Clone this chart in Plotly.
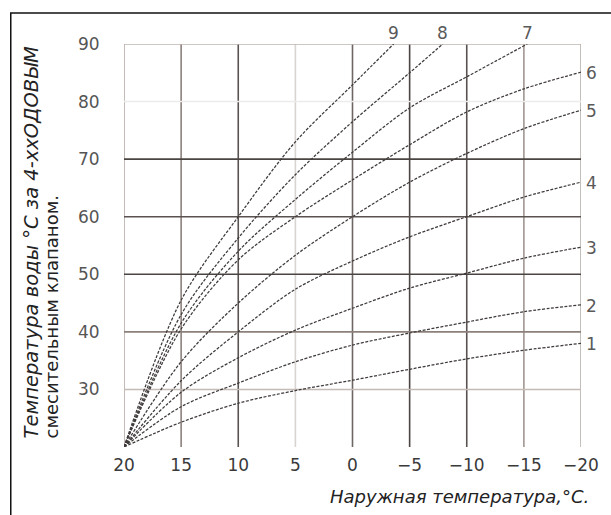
import plotly.graph_objects as go

# ---- data ----
outdoor = [20, 15, 10, 5, 0, -5, -10, -15, -20]
curve1 = [20, 24.3, 27.6, 29.8, 31.6, 33.5, 35.3, 36.8, 38.0]
curve2 = [20, 27.0, 31.1, 34.8, 37.7, 39.8, 41.7, 43.5, 44.7]
curve3 = [20, 29.5, 35.5, 40.3, 44.1, 47.6, 50.2, 52.8, 54.7]
curve4 = [20, 31.5, 40.0, 47.4, 52.3, 56.5, 60.0, 63.4, 66.0]
curve5 = [20, 34.8, 45.0, 53.3, 60.0, 66.0, 71.0, 75.3, 78.5]
curve6 = [20, 40.5, 52.5, 60.0, 66.4, 72.5, 78.2, 82.2, 85.1]
outdoor7 = [20, 15, 10, 5, 0, -5, -10, -15.3]
curve7 = [20, 41.5, 54.0, 63.0, 71.2, 78.9, 84.3, 90.0]
outdoor8 = [20, 15, 10, 5, 0, -5, -7.9]
curve8 = [20, 43.0, 56.3, 67.3, 76.5, 85.0, 90.0]
outdoor9 = [20, 15, 10, 5, 0, -3.6]
curve9 = [20, 45.5, 60.0, 73.0, 82.9, 90.0]
curve_names = ["1", "2", "3", "4", "5", "6", "7", "8", "9"]

x_ticks = [20, 15, 10, 5, 0, -5, -10, -15, -20]
x_tick_text = ["20", "15", "10", "5", "0", "−5", "−10", "−15", "−20"]
y_ticks = [30, 40, 50, 60, 70, 80, 90]

x_title = "Наружная температура,°С."
y_title_1 = "Температура воды °С за 4-ххОДОВЫМ"
y_title_2 = "смесительным клапаном."

# ---- styles ----
grid_x_colors = ['#b5aaa6', '#8c807b', '#5a5250', '#d8d4d2', '#6e6664',
                 '#4a4442', '#585250', '#a09692', '#b8aeaa']
grid_y_colors = ['#c4bab6', '#8c807b', '#4a4442', '#5a5250', '#4a4442',
                 '#ececec', '#bdb3af']

series = [
    (outdoor, curve1), (outdoor, curve2), (outdoor, curve3),
    (outdoor, curve4), (outdoor, curve5), (outdoor, curve6),
    (outdoor7, curve7), (outdoor8, curve8), (outdoor9, curve9),
]

fig = go.Figure()

for (xs, ys), name in zip(series, curve_names):
    fig.add_trace(go.Scatter(
        x=xs, y=ys, mode="lines", name=name,
        line=dict(color="#403b3b", width=1.25, dash="3px,1.5px",
                  shape="spline", smoothing=0.9),
        showlegend=False, hoverinfo="x+y",
    ))

shapes = []
for v, c in zip(x_ticks, grid_x_colors):
    shapes.append(dict(type="line", xref="x", yref="y domain", x0=v, x1=v,
                       y0=0, y1=1, line=dict(color=c, width=1.6), layer="below"))
for v, c in zip(y_ticks, grid_y_colors):
    shapes.append(dict(type="line", xref="x domain", yref="y", x0=0, x1=1,
                       y0=v, y1=v, line=dict(color=c, width=1.6), layer="below"))

# outer frame (top and left edges visible; right/bottom run off the canvas)
shapes.append(dict(type="rect", xref="paper", yref="paper",
                   x0=-0.2478, x1=1.12, y0=-0.25, y1=1.077,
                   line=dict(color="#111", width=1.5), fillcolor="rgba(0,0,0,0)"))

annotations = []
label_font = dict(family="DejaVu Sans", size=17, color="#5a5a5a")
for (xs, ys), name in zip(series, curve_names):
    if ys[-1] >= 90:
        annotations.append(dict(x=xs[-1], y=ys[-1], xref="x", yref="y", text=name,
                                showarrow=False, xanchor="center", yanchor="bottom",
                                yshift=-1, font=label_font))
    else:
        annotations.append(dict(x=xs[-1], y=ys[-1], xref="x", yref="y", text=name,
                                showarrow=False, xanchor="left", yanchor="middle",
                                xshift=3, yshift=-1, font=label_font))

annotations.append(dict(
    x=1.0216, y=-0.124, xref="paper", yref="paper",
    text="<i>" + x_title + "</i>", showarrow=False,
    xanchor="right", yanchor="middle",
    font=dict(family="DejaVu Sans", size=18, color="#222")))

annotations.append(dict(
    x=-0.203, y=0.017, xref="paper", yref="paper", textangle=-90,
    text="<i>" + y_title_1 + "</i>",
    showarrow=False, xanchor="center", yanchor="bottom",
    font=dict(family="DejaVu Sans", size=19.5, color="#222")))
annotations.append(dict(
    x=-0.158, y=0.017, xref="paper", yref="paper", textangle=-90,
    text=y_title_2,
    showarrow=False, xanchor="center", yanchor="bottom",
    font=dict(family="DejaVu Sans", size=18, color="#222")))

fig.update_layout(
    width=611, height=515,
    margin=dict(l=124, r=23, t=44, b=68),
    paper_bgcolor="white", plot_bgcolor="white",
    shapes=shapes, annotations=annotations,
    xaxis=dict(range=[20, -20], autorange=False, tickvals=x_ticks,
               ticktext=x_tick_text, showgrid=False, zeroline=False,
               showline=False, ticks="outside", ticklen=3,
               tickcolor="rgba(0,0,0,0)",
               tickfont=dict(family="DejaVu Sans", size=17, color="#3a3a3a")),
    yaxis=dict(range=[20, 90], autorange=False, tickvals=y_ticks,
               showgrid=False, zeroline=False, showline=False,
               ticks="outside", ticklen=20, tickcolor="rgba(0,0,0,0)",
               tickfont=dict(family="DejaVu Sans", size=17, color="#555")),
)

fig.write_html("out.html", config={"displayModeBar": False},
               post_script="document.body.style.margin='0';")
